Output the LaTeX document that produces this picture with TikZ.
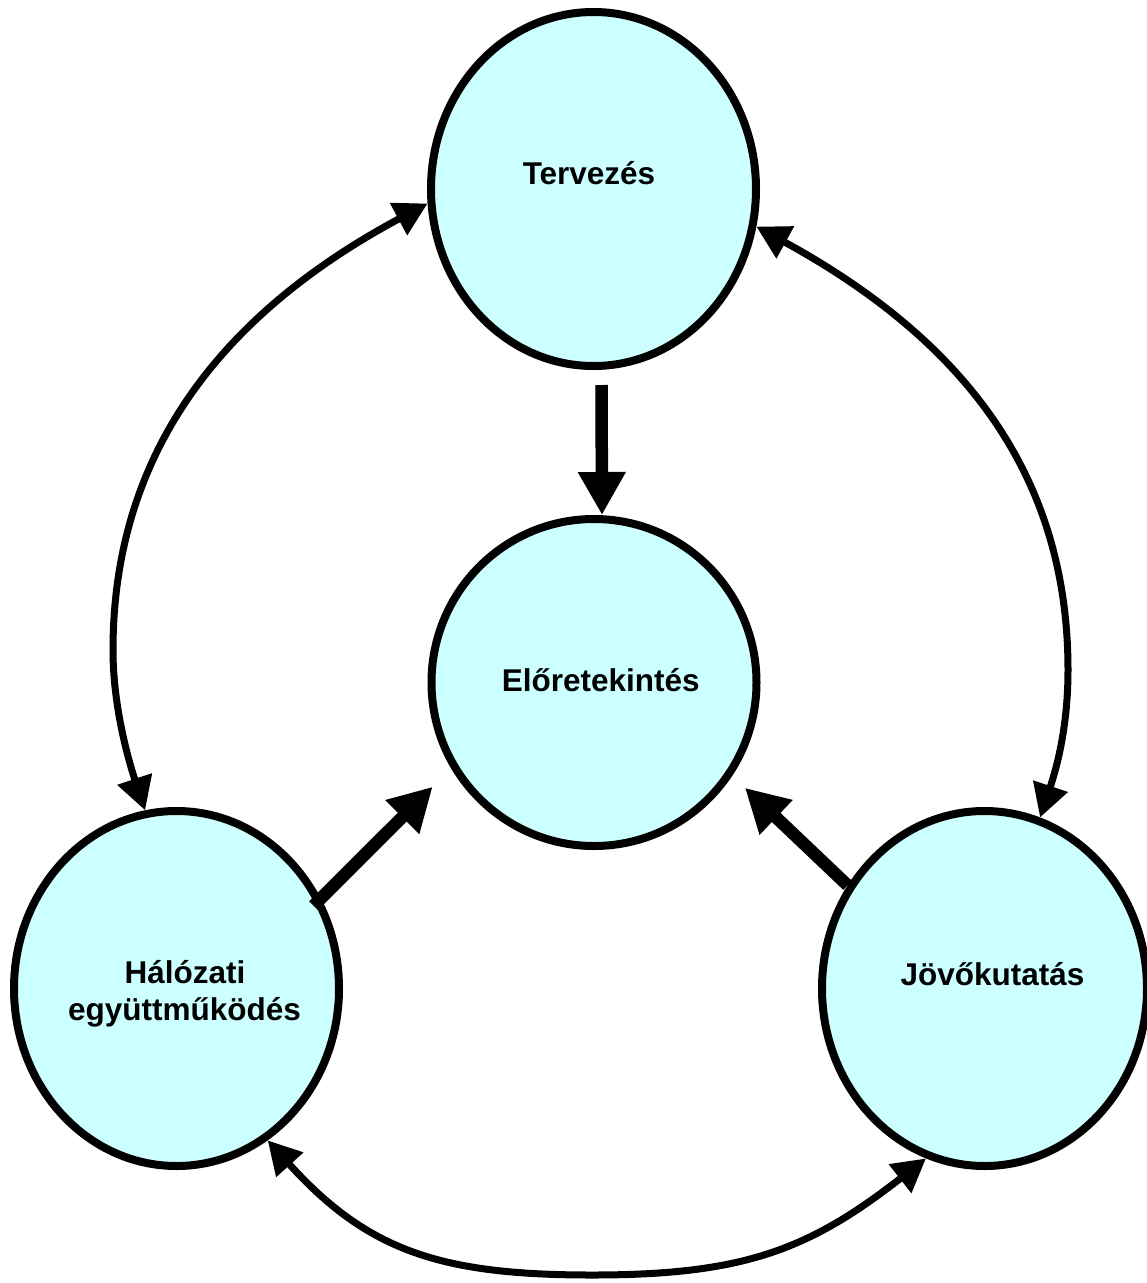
\documentclass[tikz,border=0pt]{standalone}
\usepackage{fontspec}
\setmainfont{Liberation Sans}
\usetikzlibrary{shapes.geometric,arrows.meta}
\definecolor{bubblefill}{RGB}{204,255,255}
\begin{document}
\begin{tikzpicture}[x=1pt,y=-1pt,
  bubble/.style={ellipse,draw=black,line width=8pt,fill=bubblefill,
    minimum width=325pt,inner sep=0pt,outer sep=4pt},
  caption/.style={inner sep=0pt,anchor=base,
    font=\fontsize{31.5}{36.7}\selectfont\bfseries},
  twoway/.style={line width=7pt,
    {Triangle[length=33pt,width=35pt]}-{Triangle[length=33pt,width=35pt]}},
  feed/.style={line width=12.5pt,-{Triangle[length=43pt,width=45pt]}}]

% canvas
\path[use as bounding box,fill=white] (0,0) rectangle (1147,1283);

% the four bubbles
\node[bubble,minimum height=354pt] (T) at (593.5,189) {};
\node[bubble,minimum height=327pt] (E) at (594,682.5) {};
\node[bubble,minimum height=355pt] (H) at (176.5,988.5) {};
\node[bubble,minimum height=355pt] (J) at (984.5,988.5) {};

% turning points of the outer arcs
\coordinate (LM) at (113,650);
\coordinate (RM) at (1068,670);
\coordinate (BM) at (592,1275);

% two-way links around the cycle
\draw[twoway] (T.185) .. controls +(-202.6,108.6) and +(0,-200) .. (LM)
  .. controls +(0,55) and +(-17.4,-52.2) .. (H.100);
\draw[twoway] (T.347) .. controls +(202,110.6) and +(0,-200) .. (RM)
  .. controls +(0,55) and +(17.4,-52.2) .. (J.72);
\draw[twoway] (H.301) .. controls +(100.5,111.3) and +(-150,0) .. (BM)
  .. controls +(150,0) and +(-118.2,92.4) .. (J.251.5);

% inputs to the centre
\draw[feed] ([xshift=8pt,yshift=-15pt]T.south) -- ([xshift=8pt]E.north);
\draw[feed,shorten <=-10.5pt,shorten >=26pt] (H.32.9) -- (E.211.6);
\draw[feed,shorten >=17.5pt] (J.143.8) -- (E.326);

% labels
\node[caption] (tT) at (589,184.3) {Tervezés};
\node[caption] (tE) at (600.8,691.7) {Előretekintés};
\node[caption] (tH1) at (185,983.3) {Hálózati};
\node[caption] (tH2) at (184.5,1020) {együttműködés};
\node[caption] (tJ) at (992.5,985) {Jövőkutatás};
\end{tikzpicture}
\end{document}
